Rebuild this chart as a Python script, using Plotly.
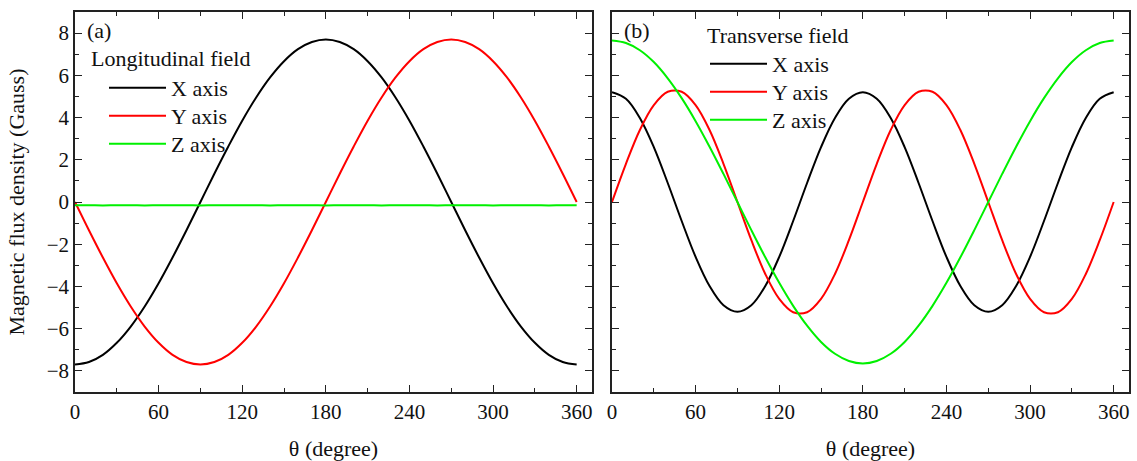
import plotly.graph_objects as go

theta = list(range(0, 361, 10))

# Panel (a) Longitudinal field
long_x = [-7.70, -7.58, -7.24, -6.67, -5.90, -4.95, -3.85, -2.63, -1.34, 0.00, 1.34, 2.63, 3.85,
          4.95, 5.90, 6.67, 7.24, 7.58, 7.70, 7.58, 7.24, 6.67, 5.90, 4.95, 3.85, 2.63, 1.34,
          0.00, -1.34, -2.63, -3.85, -4.95, -5.90, -6.67, -7.24, -7.58, -7.70]
long_y = [0.00, -1.34, -2.63, -3.85, -4.95, -5.90, -6.67, -7.24, -7.58, -7.70, -7.58, -7.24,
          -6.67, -5.90, -4.95, -3.85, -2.63, -1.34, 0.00, 1.34, 2.63, 3.85, 4.95, 5.90, 6.67,
          7.24, 7.58, 7.70, 7.58, 7.24, 6.67, 5.90, 4.95, 3.85, 2.63, 1.34, 0.00]
long_z = [-0.15, -0.15, -0.16, -0.15, -0.15, -0.16, -0.15, -0.15, -0.15, -0.16, -0.15, -0.15,
          -0.15, -0.15, -0.16, -0.15, -0.15, -0.15, -0.16, -0.15, -0.15, -0.15, -0.16, -0.15,
          -0.15, -0.15, -0.16, -0.15, -0.15, -0.15, -0.16, -0.15, -0.15, -0.15, -0.16, -0.15, -0.15]

# Panel (b) Transverse field
trans_x = [5.20, 4.89, 3.98, 2.60, 0.90, -0.90, -2.60, -3.98, -4.89, -5.20, -4.89, -3.98, -2.60,
           -0.90, 0.90, 2.60, 3.98, 4.89, 5.20, 4.89, 3.98, 2.60, 0.90, -0.90, -2.60, -3.98,
           -4.89, -5.20, -4.89, -3.98, -2.60, -0.90, 0.90, 2.60, 3.98, 4.89, 5.20]
trans_y = [0.00, 1.81, 3.41, 4.59, 5.22, 5.22, 4.59, 3.41, 1.81, 0.00, -1.81, -3.41, -4.59,
           -5.22, -5.22, -4.59, -3.41, -1.81, 0.00, 1.81, 3.41, 4.59, 5.22, 5.22, 4.59, 3.41,
           1.81, 0.00, -1.81, -3.41, -4.59, -5.22, -5.22, -4.59, -3.41, -1.81, 0.00]
trans_z = [7.65, 7.53, 7.19, 6.63, 5.86, 4.92, 3.83, 2.62, 1.33, 0.00, -1.33, -2.62, -3.83,
           -4.92, -5.86, -6.63, -7.19, -7.53, -7.65, -7.53, -7.19, -6.63, -5.86, -4.92, -3.83,
           -2.62, -1.33, 0.00, 1.33, 2.62, 3.83, 4.92, 5.86, 6.63, 7.19, 7.53, 7.65]

series_names = ["X axis", "Y axis", "Z axis"]
colors = ["#000000", "#ff0000", "#00f000"]
x_ticks = [0, 60, 120, 180, 240, 300, 360]
y_ticks = [-8, -6, -4, -2, 0, 2, 4, 6, 8]

FONT = "Liberation Serif, Times New Roman, serif"
FS = 22
TFS = 21
W, H = 1137, 461
ML, MR, MT, MB = 75, 8, 12, 69
PW, PH = W - ML - MR, H - MT - MB


def px_x(px):
    return (px - ML) / PW


def px_y(py):
    return (H - MB - py) / PH


# legend ids: one single-entry legend per series so the row spacing can match
left_legends = ["legend", "legend2", "legend3"]
right_legends = ["legend4", "legend5", "legend6"]
left_rows = [89, 117, 145]
right_rows = [65, 93, 121]

fig = go.Figure()
for name, vals, col, lg in zip(series_names, [long_x, long_y, long_z], colors, left_legends):
    fig.add_trace(go.Scatter(x=theta, y=vals, mode="lines", name=name,
                             line=dict(color=col, width=2, shape="spline", smoothing=1),
                             xaxis="x", yaxis="y", legend=lg))
for name, vals, col, lg in zip(series_names, [trans_x, trans_y, trans_z], colors, right_legends):
    fig.add_trace(go.Scatter(x=theta, y=vals, mode="lines", name=name,
                             line=dict(color=col, width=2, shape="spline", smoothing=1),
                             xaxis="x2", yaxis="y2", legend=lg))

axis_common = dict(
    showline=True, linecolor="#222", linewidth=1.5, mirror="allticks",
    ticks="inside", ticklen=7, tickwidth=1.3, tickcolor="#222",
    showgrid=False, zeroline=False,
    tickfont=dict(family=FONT, size=TFS, color="#111"),
)
xaxis_common = dict(axis_common, range=[0, 371], tickvals=x_ticks, automargin=False,
                    minor=dict(ticks="inside", ticklen=4, tickwidth=1.2, tickcolor="#222",
                               dtick=30, tick0=0),
                    title=dict(text="θ (degree)", font=dict(family=FONT, size=FS, color="#111"),
                               standoff=18))
yaxis_common = dict(axis_common, range=[-9, 9], tickvals=y_ticks, automargin=False,
                    minor=dict(ticks="inside", ticklen=4, tickwidth=1.2, tickcolor="#222",
                               dtick=1, tick0=0))

legend_common = dict(xref="paper", yref="paper", xanchor="left", yanchor="top",
                     bgcolor="rgba(0,0,0,0)", font=dict(family=FONT, size=FS, color="#111"),
                     itemwidth=57)

legend_layout = {}
for lg, row in zip(left_legends, left_rows):
    legend_layout[lg] = dict(legend_common, x=px_x(104), y=px_y(row - 22))
for lg, row in zip(right_legends, right_rows):
    legend_layout[lg] = dict(legend_common, x=px_x(705), y=px_y(row - 22))

fig.update_layout(
    width=W, height=H,
    margin=dict(l=ML, r=MR, t=MT, b=MB),
    paper_bgcolor="white", plot_bgcolor="white",
    font=dict(family=FONT, size=FS, color="#111"),
    xaxis=dict(xaxis_common, domain=[0, px_x(592)], anchor="y"),
    xaxis2=dict(xaxis_common, domain=[px_x(612), 1.0], anchor="y2"),
    yaxis=dict(yaxis_common, anchor="x", domain=[0, 1],
               title=dict(text="Magnetic flux density (Gauss)",
                          font=dict(family=FONT, size=FS, color="#111"), standoff=16)),
    yaxis2=dict(yaxis_common, anchor="x2", domain=[0, 1], matches="y", showticklabels=False),
    showlegend=True,
    annotations=[
        dict(text="(a)", xref="x domain", yref="y domain", x=0.02, y=0.99,
             xanchor="left", yanchor="top", showarrow=False,
             font=dict(family=FONT, size=FS, color="#111")),
        dict(text="(b)", xref="x2 domain", yref="y2 domain", x=0.02, y=0.99,
             xanchor="left", yanchor="top", showarrow=False,
             font=dict(family=FONT, size=FS, color="#111")),
        dict(text="Longitudinal field", xref="paper", yref="paper", x=px_x(89), y=px_y(58),
             xanchor="left", yanchor="middle", showarrow=False,
             font=dict(family=FONT, size=FS, color="#111")),
        dict(text="Transverse field", xref="paper", yref="paper", x=px_x(705), y=px_y(36),
             xanchor="left", yanchor="middle", showarrow=False,
             font=dict(family=FONT, size=FS, color="#111")),
    ],
    **legend_layout,
)

fig.write_html("out.html", config={"displayModeBar": False},
               post_script="document.body.style.margin='0';")
